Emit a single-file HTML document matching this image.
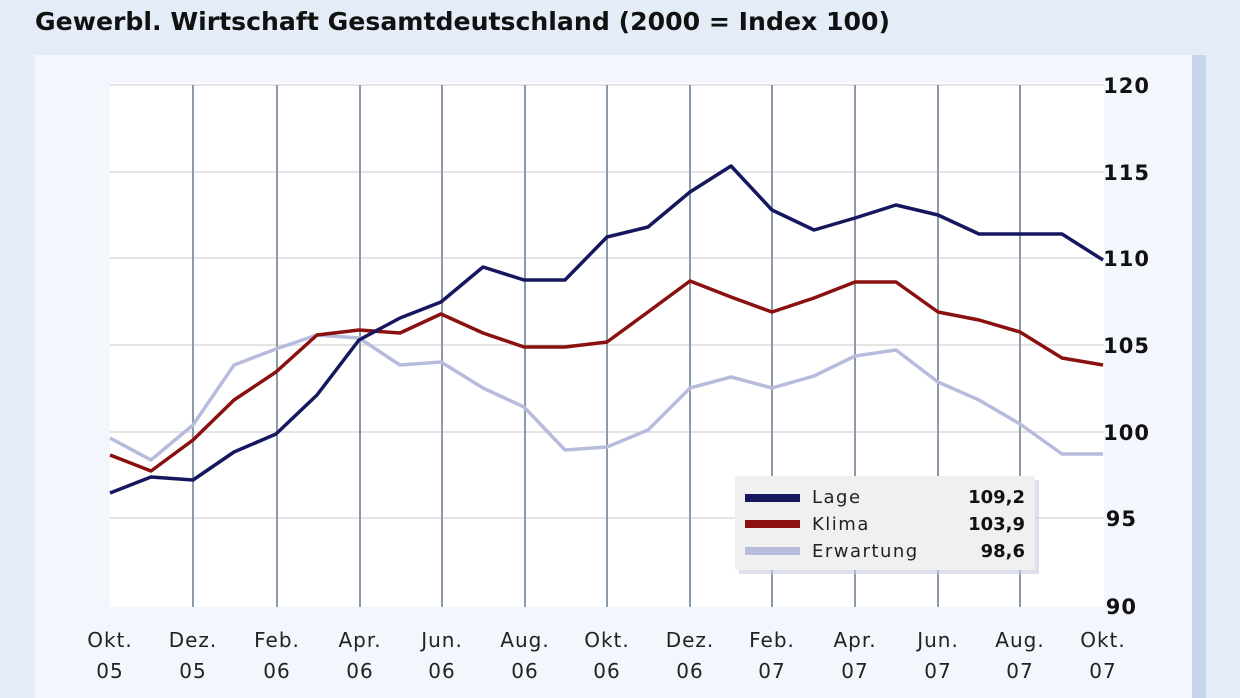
<!DOCTYPE html><html><head><meta charset="utf-8"><style>
body{margin:0;width:1240px;height:698px;background:#e4ecf8;overflow:hidden;font-family:"DejaVu Sans","Liberation Sans",sans-serif}
</style></head><body>
<svg width="1240" height="698" xmlns="http://www.w3.org/2000/svg" style="position:absolute;left:0;top:0">
<rect x="1190" y="55" width="16" height="643" fill="#c9d4ee"/>
<rect x="35" y="55" width="1157" height="643" fill="#f3f6fc"/>
<rect x="110" y="83" width="994" height="524" fill="#fff"/>
<g stroke="#e4e4e4" stroke-width="2">
<line x1="110" y1="85" x2="1104" y2="85"/><line x1="110" y1="172" x2="1104" y2="172"/><line x1="110" y1="258" x2="1104" y2="258"/><line x1="110" y1="345" x2="1104" y2="345"/><line x1="110" y1="432" x2="1104" y2="432"/><line x1="110" y1="518" x2="1104" y2="518"/></g>
<g stroke="#8a9aa8" stroke-width="2">
<line x1="193" y1="85" x2="193" y2="607"/><line x1="277" y1="85" x2="277" y2="607"/><line x1="360" y1="85" x2="360" y2="607"/><line x1="442" y1="85" x2="442" y2="607"/><line x1="525" y1="85" x2="525" y2="607"/><line x1="607" y1="85" x2="607" y2="607"/><line x1="690" y1="85" x2="690" y2="607"/><line x1="772" y1="85" x2="772" y2="607"/><line x1="855" y1="85" x2="855" y2="607"/><line x1="938" y1="85" x2="938" y2="607"/><line x1="1020" y1="85" x2="1020" y2="607"/></g>
<g fill="none" stroke-width="3.5" stroke-linejoin="round">
<polyline stroke="#b8bcdc" points="110,438 151,460 193,425 234,365 276,349 317,335 359,338 400,365 441,362 483,388 524,407 565,450 607,447 648,430 690,388 731,377 772,388 814,376 855,356 896,350 938,382 979,400 1020,424 1062,454 1103,454"/>
<polyline stroke="#8b1010" points="110,455 151,471 193,440 234,400 276,372 317,335 359,330 400,333 441,314 483,333 524,347 565,347 607,342 648,312 690,281 731,297 772,312 814,298 855,282 896,282 938,312 979,320 1020,332 1062,358 1103,365"/>
<polyline stroke="#15185e" points="110,493 151,477 193,480 234,452 276,434 317,395 359,340 400,318 441,302 483,267 524,280 565,280 607,237 648,227 690,192 731,166 772,210 814,230 855,218 896,205 938,215 979,234 1020,234 1062,234 1103,260"/>
</g>
<rect x="739" y="480" width="300" height="94" fill="#c8cce0" opacity="0.6"/>
<rect x="735" y="476" width="300" height="94" fill="#f0f0f0"/>
<rect x="745" y="494" width="55" height="8" fill="#15185e"/>
<rect x="745" y="520" width="55" height="8" fill="#8b1010"/>
<rect x="745" y="547" width="55" height="8" fill="#b8bcdc"/>
<g font-size="18" fill="#222" letter-spacing="1.5">
<text x="812" y="503">Lage</text><text x="812" y="530">Klima</text><text x="812" y="557">Erwartung</text></g>
<g font-size="18" font-weight="bold" fill="#111" text-anchor="end">
<text x="1025" y="503">109,2</text><text x="1025" y="530">103,9</text><text x="1025" y="557">98,6</text></g>
<g font-size="21" font-weight="bold" fill="#111" text-anchor="end" letter-spacing="1">
<text x="1150" y="93">120</text><text x="1150" y="180">115</text><text x="1150" y="266">110</text><text x="1150" y="353">105</text><text x="1150" y="440">100</text><text x="1137" y="526">95</text><text x="1137" y="614">90</text></g>
<g font-size="20" fill="#222" text-anchor="middle" letter-spacing="1">
<text x="110" y="647">Okt.</text><text x="193" y="647">Dez.</text><text x="277" y="647">Feb.</text><text x="360" y="647">Apr.</text><text x="442" y="647">Jun.</text><text x="525" y="647">Aug.</text><text x="607" y="647">Okt.</text><text x="690" y="647">Dez.</text><text x="772" y="647">Feb.</text><text x="855" y="647">Apr.</text><text x="938" y="647">Jun.</text><text x="1020" y="647">Aug.</text><text x="1103" y="647">Okt.</text>
<text x="110" y="678">05</text><text x="193" y="678">05</text><text x="277" y="678">06</text><text x="360" y="678">06</text><text x="442" y="678">06</text><text x="525" y="678">06</text><text x="607" y="678">06</text><text x="690" y="678">06</text><text x="772" y="678">07</text><text x="855" y="678">07</text><text x="938" y="678">07</text><text x="1020" y="678">07</text><text x="1103" y="678">07</text></g>
<text x="35" y="30" font-size="25" font-weight="bold" fill="#111" textLength="855" lengthAdjust="spacingAndGlyphs">Gewerbl. Wirtschaft Gesamtdeutschland (2000 = Index 100)</text>
</svg>
</body></html>
